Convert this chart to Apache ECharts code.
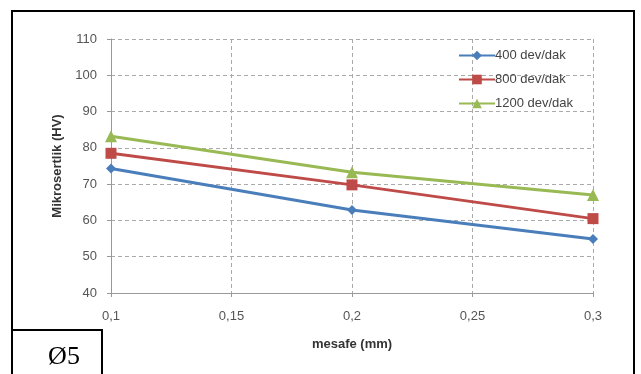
<!DOCTYPE html>
<html><head><meta charset="utf-8">
<script src="https://cdn.jsdelivr.net/npm/echarts@6/dist/echarts.min.js"></script>
<style>html,body{margin:0;padding:0;background:#fff}#c{width:641px;height:374px}</style>
</head><body><div id="c"></div>
<script>
const xValues = [0.1, 0.2, 0.3];
const s400 = [74.3, 62.9, 54.9];
const s800 = [78.5, 69.8, 60.5];
const s1200 = [83.2, 73.3, 67.0];
const seriesNames = ['400 dev/dak', '800 dev/dak', '1200 dev/dak'];
const seriesColors = ['#4a7ebb', '#be4b48', '#98b954'];
const seriesSymbols = ['diamond', 'rect', 'triangle'];
const xTitle = 'mesafe (mm)';
const yTitle = 'Mikrosertlik (HV)';
const label = 'Ø5';

const allData = [s400, s800, s1200];
const chart = echarts.init(document.getElementById('c'));
const fnt = 'Liberation Sans, Arial, sans-serif';
chart.setOption({
  animation: false,
  grid: {left: 111, right: 641 - 593, top: 39, bottom: 374 - 293, containLabel: false},
  legend: {
    orient: 'vertical', left: 453, top: 44,
    itemWidth: 36, itemHeight: 12, itemGap: 11,
    textStyle: {fontFamily: fnt, fontSize: 13, color: '#444', padding: [0,0,0,-5]},
    data: seriesNames
  },
  xAxis: {
    type: 'value', min: 0.1, max: 0.3, interval: 0.05,
    name: xTitle, nameLocation: 'middle', nameGap: 45,
    nameTextStyle: {fontFamily: fnt, fontSize: 13, fontWeight: 'bold', color: '#333'},
    axisLine: {show: true, lineStyle: {color: '#999', width: 1}},
    axisTick: {show: true, length: 4, lineStyle: {color: '#999'}},
    axisLabel: {fontFamily: fnt, fontSize: 13, color: '#555', margin: 17,
      formatter: v => String(Math.round(v * 100) / 100).replace('.', ',')},
    splitLine: {show: true, lineStyle: {color: '#aaa', type: [4, 3], width: 1}}
  },
  yAxis: {
    type: 'value', min: 40, max: 110, interval: 10,
    name: yTitle, nameLocation: 'middle', nameGap: 47, nameRotate: 90,
    nameTextStyle: {fontFamily: fnt, fontSize: 13, fontWeight: 'bold', color: '#333'},
    axisLine: {show: true, lineStyle: {color: '#999', width: 1}},
    axisTick: {show: true, length: 4, lineStyle: {color: '#999'}},
    axisLabel: {fontFamily: fnt, fontSize: 13, color: '#555', margin: 14},
    splitLine: {show: true, lineStyle: {color: '#aaa', type: [4, 3], width: 1}}
  },
  series: seriesNames.map((n, i) => ({
    name: n, type: 'line',
    data: xValues.map((x, j) => [x, allData[i][j]]),
    symbol: seriesSymbols[i],
    symbolSize: i === 0 ? 10 : (i === 1 ? 11 : 12),
    itemStyle: {color: seriesColors[i]},
    lineStyle: {color: seriesColors[i], width: 3},
    z: 3 + i
  })),
  graphic: [
    {type: 'polyline', shape: {points: [[12, 374], [12, 11], [634, 11], [634, 374]]},
      style: {stroke: '#000', lineWidth: 2, fill: null}, z: 100},
    {type: 'polyline', shape: {points: [[12, 330], [102, 330], [102, 374]]},
      style: {stroke: '#000', lineWidth: 2, fill: null}, z: 100},
    {type: 'text', x: 64, y: 357,
      style: {text: label, fontFamily: 'Liberation Serif, Times New Roman, serif', fontSize: 26, fill: '#000', align: 'center', verticalAlign: 'middle'}, z: 100}
  ]
});
</script></body></html>
